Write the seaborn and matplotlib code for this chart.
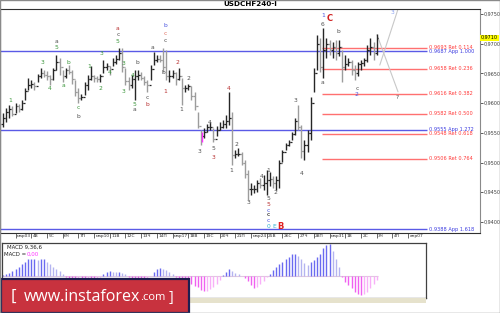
import numpy as np
import pandas as pd
import matplotlib
matplotlib.use("Agg")
import matplotlib.pyplot as plt
import matplotlib.transforms as mtransforms
from matplotlib.patches import Rectangle
from matplotlib.text import Annotation
import seaborn as sns

# ---------------- data (prices in pips, 1 pip = 0.0001) ----------------
high_pips = [9583, 9592, 9597, 9595, 9600, 9598, 9605, 9625, 9642, 9639,
             9636, 9649, 9659, 9656, 9654, 9647, 9659, 9681, 9676, 9656,
             9659, 9664, 9656, 9639, 9625, 9615, 9636, 9647, 9662, 9647,
             9646, 9649, 9673, 9667, 9662, 9676, 9681, 9693, 9693, 9659,
             9644, 9647, 9656, 9656, 9652, 9646, 9639, 9664, 9686, 9681,
             9681, 9693, 9689, 9656, 9656, 9652, 9659, 9642, 9631, 9632,
             9629, 9619, 9585, 9555, 9558, 9565, 9568, 9558, 9561, 9568,
             9572, 9580, 9619, 9585, 9521, 9524, 9518, 9504, 9487, 9465,
             9462, 9471, 9474, 9479, 9487, 9484, 9477, 9477, 9504, 9521,
             9533, 9538, 9551, 9575, 9597, 9563, 9538, 9555, 9610, 9659,
             9715, 9710, 9726, 9710, 9706, 9703, 9706, 9706, 9689, 9681,
             9676, 9673, 9664, 9669, 9673, 9676, 9698, 9710, 9703, 9716]
low_pips = [9560, 9568, 9575, 9578, 9583, 9585, 9588, 9605, 9622, 9625,
            9622, 9636, 9642, 9644, 9639, 9631, 9639, 9656, 9647, 9636,
            9642, 9649, 9632, 9612, 9600, 9605, 9614, 9622, 9639, 9636,
            9636, 9636, 9651, 9656, 9647, 9662, 9666, 9673, 9652, 9631,
            9622, 9625, 9605, 9639, 9639, 9631, 9619, 9639, 9664, 9669,
            9669, 9652, 9639, 9636, 9642, 9631, 9639, 9597, 9619, 9622,
            9605, 9588, 9558, 9529, 9541, 9551, 9555, 9534, 9545, 9555,
            9558, 9558, 9563, 9496, 9508, 9511, 9496, 9474, 9437, 9445,
            9449, 9450, 9457, 9454, 9445, 9460, 9457, 9454, 9457, 9501,
            9521, 9528, 9538, 9546, 9555, 9508, 9504, 9518, 9538, 9619,
            9656, 9652, 9642, 9676, 9681, 9676, 9673, 9679, 9636, 9656,
            9662, 9647, 9639, 9646, 9656, 9662, 9669, 9681, 9673, 9681]
close_pips = [9575, 9585, 9590, 9582, 9595, 9590, 9600, 9620, 9630, 9632,
              9628, 9645, 9650, 9648, 9645, 9640, 9655, 9670, 9660, 9645,
              9655, 9652, 9640, 9618, 9608, 9610, 9630, 9640, 9645, 9642,
              9640, 9645, 9660, 9662, 9658, 9670, 9675, 9685, 9660, 9638,
              9630, 9640, 9645, 9648, 9642, 9636, 9630, 9658, 9672, 9675,
              9672, 9660, 9645, 9645, 9650, 9640, 9645, 9625, 9625, 9628,
              9612, 9595, 9562, 9545, 9552, 9560, 9560, 9540, 9555, 9560,
              9565, 9570, 9575, 9512, 9515, 9515, 9500, 9480, 9455, 9455,
              9455, 9465, 9462, 9465, 9470, 9472, 9465, 9470, 9500, 9518,
              9530, 9534, 9548, 9570, 9560, 9520, 9530, 9550, 9600, 9650,
              9700, 9660, 9690, 9700, 9690, 9695, 9685, 9695, 9660, 9665,
              9670, 9655, 9650, 9665, 9668, 9672, 9690, 9695, 9685, 9710]
first_open_pips = 9565
last_price = "0,9710"

macd_hist = [0.7, 1.3, 2.3, 5, 6.7, 8.3, 11.3, 13.7, 16.3, 16.3,
             16.3, 15.7, 16.3, 16.3, 14, 11.3, 9, 6.3, 4.7, 1.3,
             -1, -2.7, -3.3, -3.3, -3, -3, -3, -2.7, -3.7, -3.7,
             -3, -1, 1.7, 3.7, 4.3, 3.7, 3.3, 3.3, 3, 1.3,
             -1, -2, -2.7, -3, -3, -3.3, -3, -0.3, 4, 6.3,
             7.3, 7, 5.7, 3.7, 1.7, -1.7, -3, -5, -6, -7,
             -8.7, -10.3, -11.7, -14.3, -15.3, -15, -13.7, -11.7, -8.7, -4.3,
             0.3, 3.7, 6.3, 5, 3, 1.3, -0.3, -2, -5, -9.3,
             -12.7, -11.7, -8.7, -5, -1.7, 1.7, 5.7, 8.3, 11.7, 13.7,
             16.3, 19, 21.3, 21.7, 19.7, 16.3, 13, 10.7, 13.3, 15.7,
             18.3, 21.3, 27.3, 30.7, 31.3, 25, 16.3, 8.3, -1, -6,
             -9.3, -12.7, -16, -18.3, -19.3, -18.3, -16, -12.7, -8.7, -4.3]

fib_levels = [9693, 9687, 9658, 9616, 9582, 9555, 9548, 9506, 9388]
fib_names = ["Ret 0.114", "App 1.000", "Ret 0.236", "Ret 0.382", "Ret 0.500",
             "App 1.272", "Ret 0.618", "Ret 0.764", "App 1.618"]
fib_start_bar = 101.6
fib_end_bar = 135

price_ticks = [9400, 9450, 9500, 9550, 9600, 9650, 9700, 9750]

day_labels = ["мар03", "4В", "5С", "6Ч", "7П", "мар10", "11В", "12С", "13Ч", "14П",
              "мар17", "18В", "19С", "20Ч", "21П", "мар24", "25В", "26С", "27Ч", "28П",
              "мар31", "1В", "2С", "3Ч", "4П", "апр07"]
first_day_bar = 4
bars_per_day = 5

# wave labels: bar position, price (pips), text, colour
G, K, R, BL = "#3c963c", "#505050", "#b83030", "#4a55e0"
wave_bar = [2.2, 12.4, 15, 16.9, 16.9, 19.1, 20.7, 23.9, 23.9, 27.4, 30.9, 31.5, 34.1,
            36.6, 36.6, 36.6, 38.2, 38.5, 41.4, 41.7, 41.7, 42.7, 45.9, 45.9, 47.5,
            51.6, 51.6, 51.6, 51.0, 51.6, 55.7, 56.7, 59.2, 62.7, 65.9, 66.9, 66.9,
            72.0, 72.6, 74.2, 78.3, 82.5, 84.4, 84.4, 84.4, 84.4, 84.4, 84.4, 84.4,
            86.3, 88.2, 86.9, 93.0, 95.2, 101.6, 101.9, 101.9, 104.1, 106.7, 112.7,
            112.7, 123.9, 125.5]
wave_price = [9604, 9669, 9625, 9693, 9703, 9630, 9669, 9592, 9578, 9662, 9624, 9684, 9651,
              9703, 9715, 9726, 9666, 9620, 9647, 9598, 9590, 9669, 9610, 9597, 9693,
              9731, 9718, 9706, 9652, 9620, 9669, 9590, 9642, 9518, 9568, 9524, 9509,
              9625, 9486, 9531, 9432, 9476, 9487, 9440, 9430, 9420, 9412, 9402, 9393,
              9393, 9393, 9449, 9605, 9482, 9634, 9733, 9747, 9742, 9721, 9625,
              9614, 9753, 9610]
wave_text = ["1", "3", "4", "5", "a", "a", "b", "c", "b", "1", "2", "3", "4",
             "5", "c", "a", "3", "3", "4", "5", "a", "b", "c", "b", "a",
             "b", "c", "c", "b", "1", "2", "1", "2", "3", "4", "5", "3",
             "4", "1", "2", "3", "4", "1", "5", "5", "c", "c", "c", "0",
             "E", "B", "2", "3", "4", "a", "6", "1", "C", "b", "c",
             "2", "3", "?"]
wave_color = [G, G, G, G, K, G, G, G, K, G, G, G, G,
              G, K, R, G, G, G, G, K, K, K, R, K,
              BL, "#e07060", K, K, R, R, K, K, K, K, K, R,
              R, K, K, K, K, K, K, R, BL, "#000000", BL, "#30b0d0",
              "#30b0d0", "#e02020", K, K, K, K, K, BL, "#d02020", K, K,
              BL, "#8aa0f0", K]

proj_a_bar, proj_a_pips = [119.1, 125.8], [9715, 9619]
proj_b_bar, proj_b_pips = [120.0, 126.4], [9664, 9768]
highlight_bar, highlight_pips = 63.5, (9534, 9551)

# ---------------- figure ----------------
sns.set_theme(style="white")
plt.rcParams["font.family"] = ["DejaVu Sans"]
W, H = 500, 313
fig = plt.figure(figsize=(W / 100, H / 100), dpi=100)
fig.patch.set_facecolor("white")

px = 3.14  # pixels per bar
ax = fig.add_axes([0 / W, (H - 233) / H, 480 / W, (233 - 9) / H])
n = len(high_pips)
xb = np.arange(n)
hi = np.array(high_pips) / 1e4
lo = np.array(low_pips) / 1e4
cl = np.array(close_pips) / 1e4
op = np.concatenate([[first_open_pips / 1e4], cl[:-1]])
cols = np.where(cl >= op, "#262626", "#9c9c9c")

# fib lines
for lvl, name in zip(fib_levels, fib_names):
    y = lvl / 1e4
    if name.startswith("App"):
        ax.hlines(y, -5, fib_end_bar, color="#5a5ae6", lw=1.0, zorder=1)
        c = "#3a3ae0"
    else:
        ax.hlines(y, fib_start_bar, fib_end_bar, color="#ff7070", lw=1.0, zorder=1)
        c = "#ff3838"
    ax.text(fib_end_bar + 0.7, y, f"{lvl / 1e4:.4f} {name}", fontsize=3.6, color=c,
            va="center", ha="left")

ax.vlines(xb, lo, hi, colors=cols, lw=1.0, zorder=3)
ax.hlines(op, xb - 0.5, xb, colors=cols, lw=0.9, zorder=3)
ax.hlines(cl, xb, xb + 0.5, colors=cols, lw=0.9, zorder=3)
ax.vlines(highlight_bar, highlight_pips[0] / 1e4, highlight_pips[1] / 1e4,
          colors="#ff30ff", lw=1.0, zorder=4)

proj = pd.DataFrame({"bar": proj_a_bar + proj_b_bar,
                     "price": [p / 1e4 for p in proj_a_pips + proj_b_pips],
                     "leg": ["a", "a", "b", "b"]})
sns.lineplot(data=proj, x="bar", y="price", units="leg", estimator=None,
             color="#c8c8c8", lw=0.8, ax=ax, legend=False, zorder=2)

for b, p, t, c in zip(wave_bar, wave_price, wave_text, wave_color):
    big = t in ("C", "B")
    ax.text(b, p / 1e4, t, fontsize=6 if big else 4.3, color=c,
            fontweight="bold" if big else "normal", ha="center", va="center", zorder=5)

ax.set_xlim(-3 / px, 477 / px)
ax.set_ylim((9750 - 219 * 1.6835) / 1e4, (9750 + 5 * 1.6835) / 1e4)
ax.set_xlabel("")
ax.set_ylabel("")

# right price axis
ax.yaxis.tick_right()
ax.set_yticks([p / 1e4 for p in price_ticks])
ax.set_yticklabels([f"0,{p}" for p in price_ticks], fontsize=3.5, color="#404040")
ax.tick_params(axis="y", right=True, length=2.0, width=0.6, pad=0.5, colors="#404040")
ax.text(1.002, 0.9710, last_price,
        transform=mtransforms.blended_transform_factory(ax.transAxes, ax.transData),
        fontsize=3.5, va="center", ha="left", color="black",
        bbox=dict(boxstyle="square,pad=0.12", fc="#ffff00", ec="none"))

# x ticks (day starts)
day_pos = [first_day_bar + bars_per_day * k for k in range(len(day_labels))]
ax.set_xticks(day_pos)
ax.set_xticklabels([])
ax.tick_params(axis="x", bottom=True, length=3.5, width=0.6, colors="#505050", direction="out")
trans = mtransforms.blended_transform_factory(ax.transData, ax.transAxes)
for pos, lab in zip(day_pos, day_labels):
    ax.text(pos + 0.4, -0.006, lab, transform=trans, fontsize=3.2, color="#303030",
            ha="left", va="top")

for side, sp in ax.spines.items():
    sp.set_visible(True)
    sp.set_linewidth(0.8)
    sp.set_color("#303030")
ax.spines["right"].set_color("#8a8a8a")

fig.text(0.5, (H - 4.5) / H, "USDCHF240-I", ha="center", va="center",
         fontsize=5.2, fontweight="bold", color="black")

# ---------------- MACD panel ----------------
mx = fig.add_axes([2 / W, (H - 298) / H, 424 / W, 55 / H])
mh = np.array(macd_hist)
prev = np.concatenate([[0], mh[:-1]])
mcols = []
for v, pv in zip(mh, prev):
    if v >= 0:
        mcols.append("#6a6af0" if v >= pv else "#b4b4f0")
    else:
        mcols.append("#f060f0" if v <= pv else "#f8b0f8")
mx.hlines(0, -0.3, n - 0.5, color="#e0c8e0", lw=0.8)
mx.vlines(xb, 0, mh, colors=mcols, lw=1.0)
mx.set_xlim(-1 / px, 423 / px)
mx.set_ylim(-22.3, 32.7)
mx.set_xticks([])
mx.set_yticks([])
for sp in mx.spines.values():
    sp.set_visible(True)
    sp.set_color("#404040")
    sp.set_linewidth(0.9)
mx.text(0.012, 0.93, "MACD 9,36,6", transform=mx.transAxes, fontsize=3.9, color="#202020", va="center")
mx.text(0.005, 0.8, "MACD =", transform=mx.transAxes, fontsize=3.9, color="#202020", va="center")
mx.text(0.057, 0.8, "0,00", transform=mx.transAxes, fontsize=3.9, color="#ff30ff", va="center")

# beige strip under MACD
fig.patches.append(Rectangle((0, (H - 303) / H), 426 / W, 5 / H, transform=fig.transFigure,
                             facecolor="#e6e2cc", edgecolor="none", zorder=0))

# banner
fig.patches.append(Rectangle((0.5 / W, 0.5 / H), 188 / W, 33.5 / H, transform=fig.transFigure,
                             facecolor="#c8323e", edgecolor="#1e1e50", lw=1.6, zorder=5))
fig.text(11 / W, (H - 297) / H, "[", color="white", fontsize=12, va="center", ha="left",
         family="Open Sans", zorder=6)
t_main = fig.text(24 / W, (H - 297) / H, "www.instaforex", color="white", fontsize=11.5,
                  va="center", ha="left", family="Open Sans", zorder=6)
t_com = Annotation(".com", xy=(1, 0.5), xycoords=t_main, xytext=(0, -0.5),
                   textcoords="offset points", color="white", fontsize=8, va="center",
                   ha="left", family="Open Sans", zorder=6)
fig.add_artist(t_com)
t_br = Annotation("]", xy=(1, 0.5), xycoords=t_com, xytext=(2, 0.5),
                  textcoords="offset points", color="white", fontsize=10, va="center",
                  ha="left", family="Open Sans", zorder=6)
fig.add_artist(t_br)

# outer frame
fig.patches.append(Rectangle((0, 0), 1, 1, transform=fig.transFigure, facecolor="none",
                             edgecolor="#8a8a8a", lw=1.0, zorder=10))

fig.savefig("out.png", dpi=100)
